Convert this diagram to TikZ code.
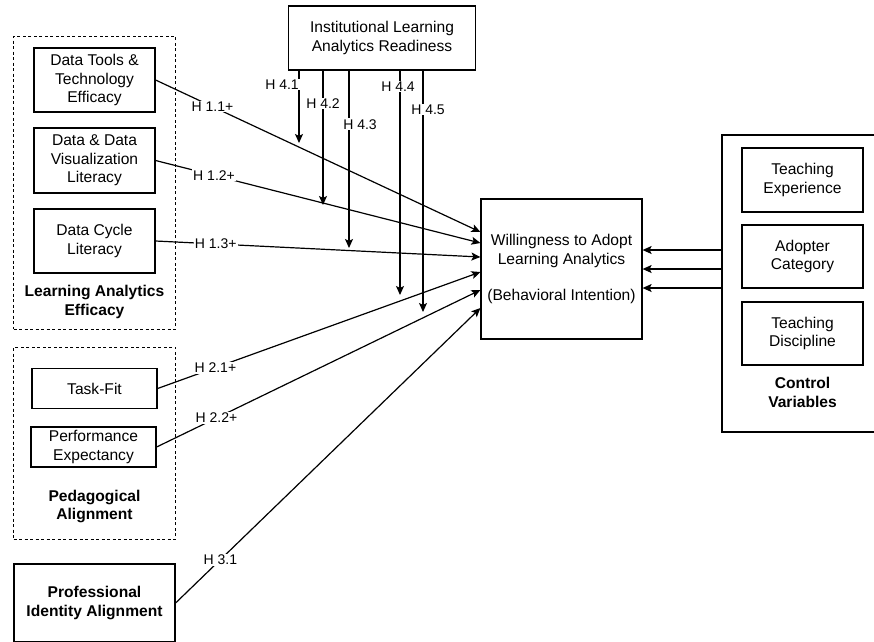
\documentclass[tikz,border=0pt]{standalone}
\usepackage{fontspec}
\setmainfont{Liberation Sans}
\usetikzlibrary{arrows.meta}

\begin{document}
\begin{tikzpicture}[x=1pt,y=-1pt,
  box/.style={draw, line width=1.2pt, inner sep=0pt, align=center,
    font=\fontsize{15.6}{18.5}\selectfont},
  grp/.style={draw, line width=1pt, dash pattern=on 3pt off 2.5pt, inner sep=0pt},
  title/.style={align=center, inner sep=0pt, font=\fontsize{15.6}{18.5}\selectfont\bfseries},
  lab/.style={fill=white, inner sep=1pt, font=\fontsize{14}{16}\selectfont},
  arr/.style={line width=1.2pt, -{Stealth[length=9pt,width=8pt,inset=2pt]}},
]
\fill[white] (0,0) rectangle (874,641);
\useasboundingbox (0,0) rectangle (874,641);

% Learning analytics efficacy group
\node[grp, minimum width=162pt, minimum height=293pt] (lae) at (94.5,182.5) {};
\node[box, minimum width=121pt, minimum height=64pt] (dt) at (94.5,80) {Data Tools \&\\Technology\\Efficacy};
\node[box, minimum width=121pt, minimum height=65pt] (dv) at (94.5,160.5) {Data \& Data\\Visualization\\Literacy};
\node[box, minimum width=121pt, minimum height=64pt] (dc) at (94.5,241) {Data Cycle\\Literacy};
\node[title] (laet) at (94.5,302) {Learning Analytics\\Efficacy};

% Pedagogical alignment group
\node[grp, minimum width=162pt, minimum height=192pt] (pa) at (94.5,443) {};
\node[box, minimum width=125pt, minimum height=40pt] (tf) at (94.5,388.5) {Task-Fit};
\node[box, minimum width=125pt, minimum height=40pt] (pe) at (93.5,447) {Performance\\Expectancy};
\node[title] (pat) at (94.5,506.5) {Pedagogical\\Alignment};

% Professional identity
\node[box, font=\fontsize{15.6}{18.5}\selectfont\bfseries, minimum width=161pt, minimum height=78pt] (pia) at (94.5,603) {Professional\\Identity Alignment};

% Moderator and outcome
\node[box, minimum width=187pt, minimum height=64pt] (inst) at (382,38) {Institutional Learning\\Analytics Readiness};
\node[box, minimum width=161pt, minimum height=140pt] (will) at (561.5,269) {Willingness to Adopt\\Learning Analytics\\[18pt](Behavioral Intention)};

% Control variables
\node[draw, line width=1.2pt, minimum width=163pt, minimum height=297pt, inner sep=0pt] (ctrl) at (803.5,283.5) {};
\node[box, minimum width=121pt, minimum height=64pt] (te) at (802.5,180) {Teaching\\Experience};
\node[box, minimum width=121pt, minimum height=63pt] (ac) at (802.5,256.5) {Adopter\\Category};
\node[box, minimum width=121pt, minimum height=63pt] (td) at (802.5,333.5) {Teaching\\Discipline};
\node[title] (ctrlt) at (802.5,392.5) {Control\\Variables};

% Direct effects
\draw[arr] (dt.east) -- node[lab, pos=0.175] {H 1.1+} ([yshift=37pt]will.west);
\draw[arr] (dv.east) -- node[lab, pos=0.18] {H 1.2+} ([yshift=26pt]will.west);
\draw[arr] (dc.east) -- node[lab, pos=0.185] {H 1.3+} ([yshift=12pt]will.west);
\draw[arr] (tf.east) -- node[lab, pos=0.179] {H 2.1+} ([yshift=-3pt]will.west);
\draw[arr] (pe.east) -- node[lab, pos=0.185] {H 2.2+} ([yshift=-21pt]will.west);
\draw[arr] (pia.east) -- node[lab, pos=0.147] {H 3.1} ([yshift=-39pt]will.west);

% Moderating effects
\coordinate (m1) at (299,143);
\coordinate (m2) at (323,205);
\coordinate (m3) at (349,248);
\coordinate (m4) at (400,295);
\coordinate (m5) at (423,312);
\draw[arr] (inst.south -| m1) -- node[lab, pos=0.19, xshift=-17pt] {H 4.1} (m1);
\draw[arr] (inst.south -| m2) -- node[lab, pos=0.244] {H 4.2} (m2);
\draw[arr] (inst.south -| m3) -- node[lab, pos=0.303, xshift=11pt] {H 4.3} (m3);
\draw[arr] (inst.south -| m4) -- node[lab, pos=0.071, xshift=-2pt] {H 4.4} (m4);
\draw[arr] (inst.south -| m5) -- node[lab, pos=0.161, xshift=5pt] {H 4.5} (m5);

% Control effects
\draw[arr] ([yshift=33.5pt]ctrl.west) -- ([yshift=19pt]will.east);
\draw[arr] ([yshift=14.5pt]ctrl.west) -- (will.east);
\draw[arr] ([yshift=-4.5pt]ctrl.west) -- ([yshift=-19pt]will.east);
\end{tikzpicture}
\end{document}
